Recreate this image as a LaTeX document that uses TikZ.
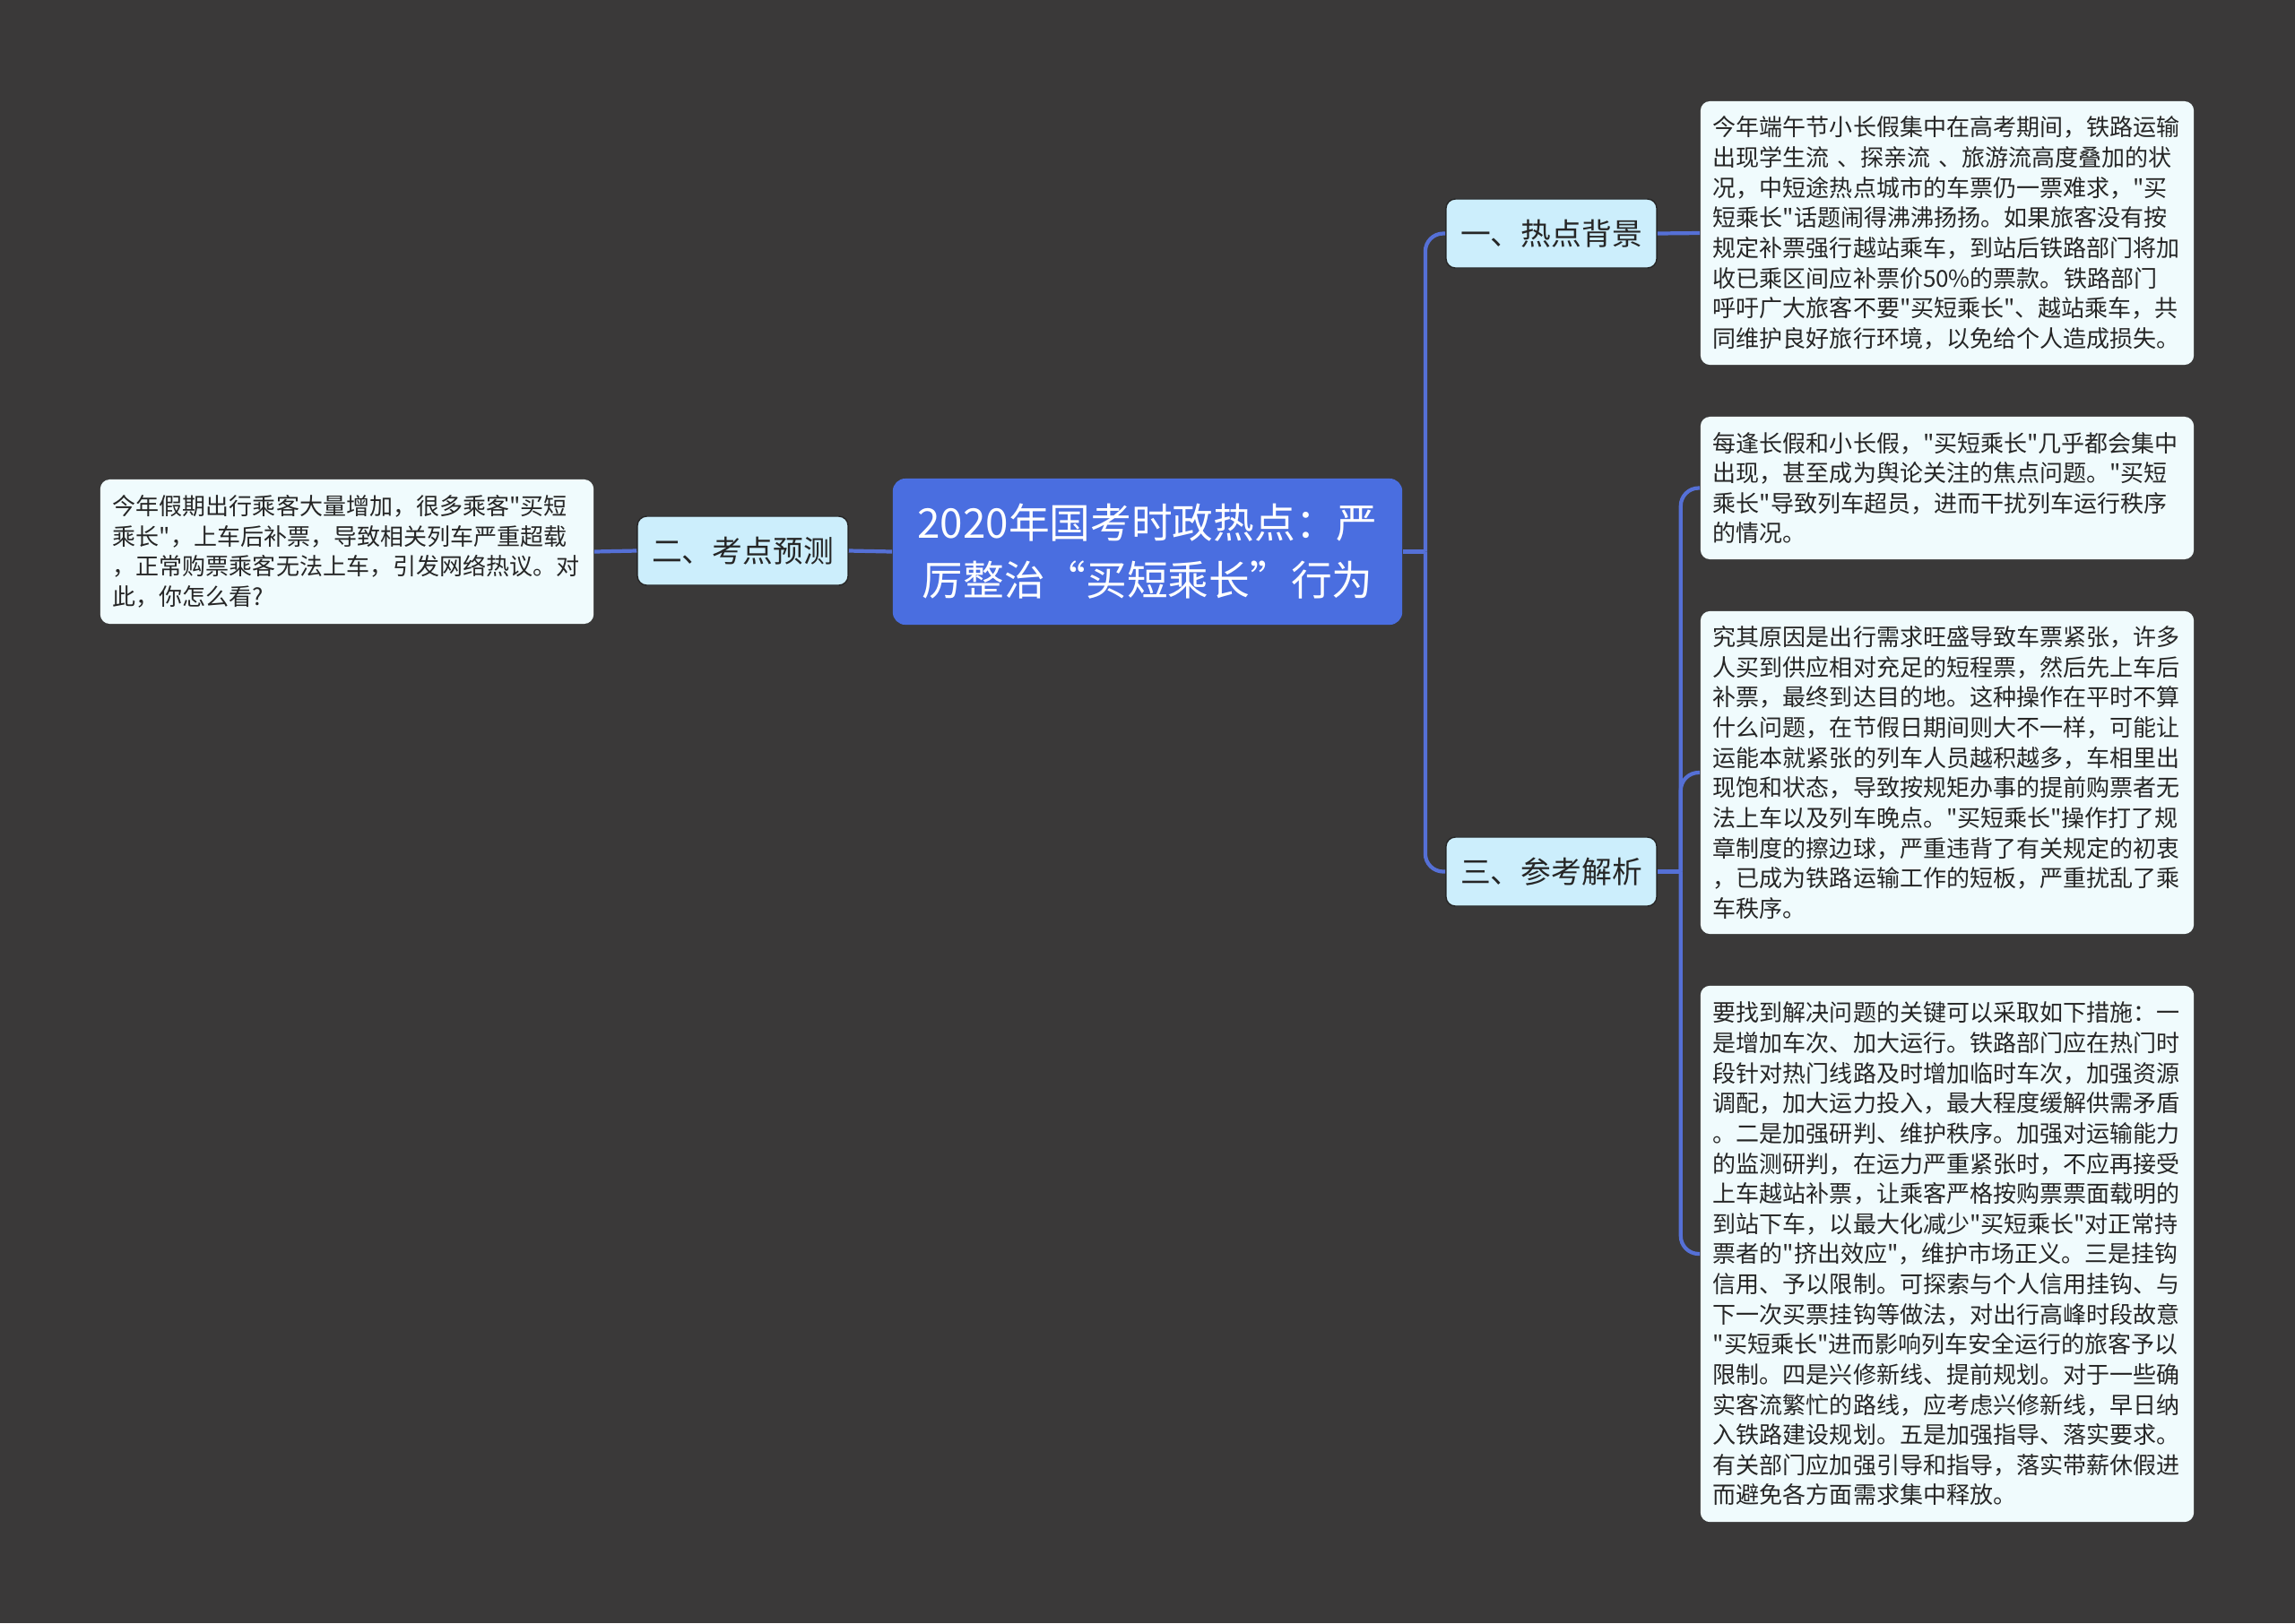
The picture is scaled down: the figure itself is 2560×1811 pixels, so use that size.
\documentclass[tikz,border=0pt]{standalone}
\usepackage{fontspec}
\setmainfont{Noto Sans CJK SC}[Ligatures=TeXOff]
\usetikzlibrary{positioning}
\definecolor{bgc}{RGB}{58,57,57}
\definecolor{rootc}{RGB}{74,110,224}
\definecolor{linec}{RGB}{85,112,214}
\definecolor{topc}{RGB}{204,238,252}
\definecolor{leafc}{RGB}{240,251,253}
\definecolor{txtc}{RGB}{38,38,38}
\tikzset{
  rootn/.style={fill=rootc, rounded corners=4pt, text=white, align=center,
                font=\fontsize{13pt}{18.2pt}\selectfont,
                minimum width=5.68cm, minimum height=1.63cm, inner sep=0pt},
  topic/.style={fill=topc, draw=black!85, line width=0.4pt, rounded corners=3pt,
                text=txtc, font=\fontsize{9.6pt}{12pt}\selectfont,
                minimum width=2.35cm, minimum height=0.77cm, inner sep=0pt},
  leaf/.style={fill=leafc, rounded corners=3pt, text=txtc, align=left,
               text width=5.22cm, font=\fontsize{7.4pt}{9.56pt}\selectfont,
               inner xsep=0.14cm, inner ysep=0pt},
  link/.style={draw=linec, line width=1.2pt, rounded corners=0.2cm},
}

\begin{document}
\begin{tikzpicture}[x=0.01cm, y=-0.01cm]
  \fill[bgc] (0,0) rectangle (2560,1811);

  % centre and main branches
  \node[rootn] (root) at (1280,615.5) {2020年国考时政热点：严\\厉整治“买短乘长”行为};
  \node[topic] (t1) at (1730.5,260.5) {一、热点背景};
  \node[topic] (t2) at (828.5,614.5) {二、考点预测};
  \node[topic] (t3) at (1730.5,972.5) {三、参考解析};

  % texts
  \node[leaf, minimum height=2.94cm] (l1) at (2172,260) {今年端午节小长假集中在高考期间，铁路运输\\出现学生流 、探亲流 、旅游流高度叠加的状\\况，中短途热点城市的车票仍一票难求，"买\\短乘长"话题闹得沸沸扬扬。如果旅客没有按\\规定补票强行越站乘车，到站后铁路部门将加\\收已乘区间应补票价50\%的票款。铁路部门\\呼吁广大旅客不要"买短乘长"、越站乘车，共\\同维护良好旅行环境，以免给个人造成损失。};
  \node[leaf, minimum height=1.59cm] (l2) at (2172,544.5) {每逢长假和小长假，"买短乘长"几乎都会集中\\出现，甚至成为舆论关注的焦点问题。"买短\\乘长"导致列车超员，进而干扰列车运行秩序\\的情况。};
  \node[leaf, minimum height=3.60cm] (l3) at (2172,862) {究其原因是出行需求旺盛导致车票紧张，许多\\人买到供应相对充足的短程票，然后先上车后\\补票，最终到达目的地。这种操作在平时不算\\什么问题，在节假日期间则大不一样，可能让\\运能本就紧张的列车人员越积越多，车相里出\\现饱和状态，导致按规矩办事的提前购票者无\\法上车以及列车晚点。"买短乘长"操作打了规\\章制度的擦边球，严重违背了有关规定的初衷\\，已成为铁路运输工作的短板，严重扰乱了乘\\车秩序。};
  \node[leaf, minimum height=5.98cm] (l4) at (2172,1399) {要找到解决问题的关键可以采取如下措施：一\\是增加车次、加大运行。铁路部门应在热门时\\段针对热门线路及时增加临时车次，加强资源\\调配，加大运力投入，最大程度缓解供需矛盾\\。二是加强研判、维护秩序。加强对运输能力\\的监测研判，在运力严重紧张时，不应再接受\\上车越站补票，让乘客严格按购票票面载明的\\到站下车，以最大化减少"买短乘长"对正常持\\票者的"挤出效应"，维护市场正义。三是挂钩\\信用、予以限制。可探索与个人信用挂钩、与\\下一次买票挂钩等做法，对出行高峰时段故意\\"买短乘长"进而影响列车安全运行的旅客予以\\限制。四是兴修新线、提前规划。对于一些确\\实客流繁忙的路线，应考虑兴修新线，早日纳\\入铁路建设规划。五是加强指导、落实要求。\\有关部门应加强引导和指导，落实带薪休假进\\而避免各方面需求集中释放。};
  \node[leaf, minimum height=1.61cm] (l0) at (387,615.5) {今年假期出行乘客大量增加，很多乘客"买短\\乘长"，上车后补票，导致相关列车严重超载\\，正常购票乘客无法上车，引发网络热议。对\\此，你怎么看?};

  % connectors
  \coordinate (j1) at ([xshift=0.25cm]root.east);
  \coordinate (j3) at ([xshift=0.26cm]t3.east);
  \draw[link] (root.east) -- (j1);
  \draw[link] (j1) |- (t1.west);
  \draw[link] (j1) |- (t3.west);
  \draw[link] (t1.east) -- (l1.west);
  \draw[link] (root.west) -- (t2.east);
  \draw[link] (t2.west) -- (l0.east);
  \draw[link] (t3.east) -- (j3);
  \draw[link] (j3) |- (l2.west);
  \draw[link] (j3) |- (l3.west);
  \draw[link] (j3) |- (l4.west);
\end{tikzpicture}
\end{document}
